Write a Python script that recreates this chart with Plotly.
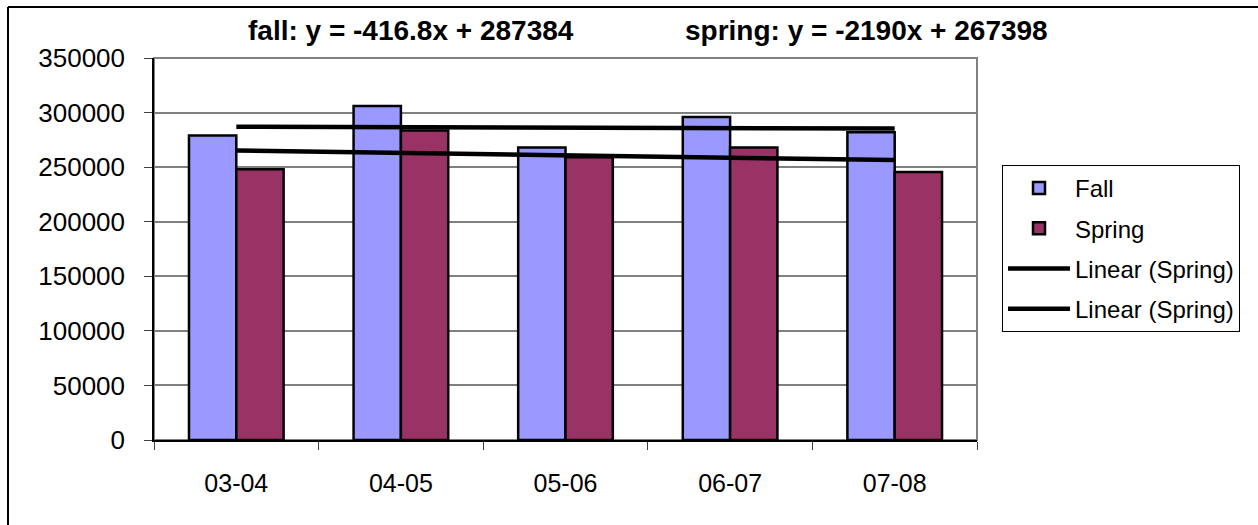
import plotly.graph_objects as go

# ---- data ----
categories = ["03-04", "04-05", "05-06", "06-07", "07-08"]
fall_values = [278900, 306000, 268000, 296000, 282000]
spring_values = [248000, 283500, 259000, 268000, 245500]
# trendline equations (as printed on the chart)
fall_slope, fall_intercept = -416.8, 287384
spring_slope, spring_intercept = -2190, 267398
y_ticks = [0, 50000, 100000, 150000, 200000, 250000, 300000, 350000]
y_tick_labels = [str(v) for v in y_ticks]

fall_trend = [fall_slope * (i + 1) + fall_intercept for i in range(len(categories))]
spring_trend = [spring_slope * (i + 1) + spring_intercept for i in range(len(categories))]

# ---- layout geometry (pixels) ----
W, H = 1258, 525
L, R, T, B = 154, 977, 58, 440


def px(x):
    return (x - L) / (R - L)


def py(y):
    return (B - y) / (B - T)


FONT = "Arial, Liberation Sans, sans-serif"

fig = go.Figure()
fig.add_trace(go.Bar(x=categories, y=fall_values, name="Fall",
                     marker=dict(color="#9999FF", line=dict(color="black", width=2.5)),
                     legendgroup="a"))
fig.add_trace(go.Bar(x=categories, y=spring_values, name="Spring",
                     marker=dict(color="#993366", line=dict(color="black", width=2.5)),
                     legendgroup="b"))
fig.add_trace(go.Scatter(x=categories, y=fall_trend, mode="lines", name="Linear (Spring)",
                         line=dict(color="black", width=4.5), legendgroup="c"))
fig.add_trace(go.Scatter(x=categories, y=spring_trend, mode="lines", name="Linear (Spring)",
                         line=dict(color="black", width=4.5), legendgroup="d"))

shapes = [
    # plot area border (gray)
    dict(type="rect", xref="paper", yref="paper", x0=0, x1=1, y0=0, y1=1,
         line=dict(color="#808080", width=2), layer="below"),
    # outer chart frame (top and left edges visible)
    dict(type="line", xref="paper", yref="paper", x0=px(8), x1=px(W + 5), y0=py(7), y1=py(7),
         line=dict(color="black", width=2)),
    dict(type="line", xref="paper", yref="paper", x0=px(8), x1=px(8), y0=py(7), y1=py(H + 5),
         line=dict(color="black", width=2)),
]

annotations = [
    dict(text="<b>fall: y = -416.8x + 287384</b>", xref="paper", yref="paper",
         x=px(411), y=py(31), showarrow=False, xanchor="center", yanchor="middle",
         font=dict(family=FONT, size=28, color="black")),
    dict(text="<b>spring: y = -2190x + 267398</b>", xref="paper", yref="paper",
         x=px(866), y=py(31), showarrow=False, xanchor="center", yanchor="middle",
         font=dict(family=FONT, size=28, color="black")),
]

fig.update_layout(
    width=W, height=H,
    margin=dict(l=L, r=W - R, t=T, b=H - B, pad=0),
    paper_bgcolor="white", plot_bgcolor="white",
    barmode="group", bargap=0.425, bargroupgap=0,
    font=dict(family=FONT, size=24, color="black"),
    shapes=shapes, annotations=annotations,
    legend=dict(x=px(1002), y=py(165), xanchor="left", yanchor="top",
                bordercolor="black", borderwidth=1, bgcolor="white",
                font=dict(family=FONT, size=24, color="black"),
                tracegroupgap=6, traceorder="grouped", itemwidth=62),
    xaxis=dict(type="category", tickson="boundaries", ticks="outside", ticklen=8,
               tickcolor="#404040", showline=True, linecolor="black", linewidth=1.5,
               showgrid=False, tickfont=dict(size=25), ticklabelstandoff=20),
    yaxis=dict(range=[0, 350000], tickvals=y_ticks, ticktext=y_tick_labels,
               ticks="outside", ticklen=8,
               tickcolor="#404040", showline=True, linecolor="black", linewidth=1.5,
               showgrid=True, gridcolor="#808080", gridwidth=1.5, zeroline=False,
               tickfont=dict(size=26), ticklabelstandoff=14),
)

fig.write_html("out.html", config={"displayModeBar": False},
               post_script="document.body.style.margin='0px';")
